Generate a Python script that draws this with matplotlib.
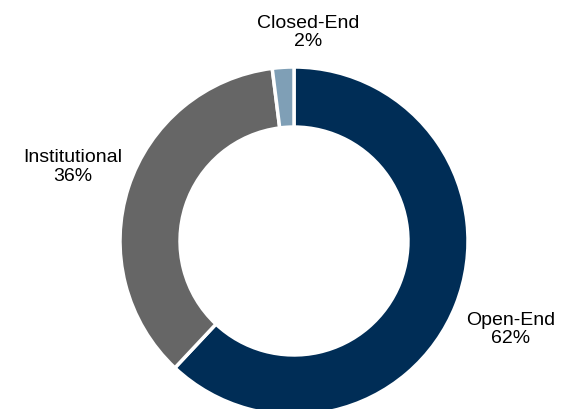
import matplotlib.pyplot as plt

categories = ["Open-End", "Institutional", "Closed-End"]
shares = [62, 36, 2]
colors = ["#002D56", "#666666", "#7F9FB6"]

plt.rcParams['font.family'] = ['Liberation Sans', 'DejaVu Sans']

fig = plt.figure(figsize=(5.67, 4.09), dpi=100)
# square axes, donut of radius 1 centred on it
ax = fig.add_axes([120 / 567, -6 / 409, 348 / 567, 348 / 409])

ax.pie(shares, colors=colors, startangle=90, counterclock=False, radius=1.0,
       wedgeprops=dict(width=0.345, edgecolor='white', linewidth=2.5))
ax.set_xlim(-1, 1)
ax.set_ylim(-1, 1)
ax.set_aspect('equal')
ax.axis('off')

label_pos = {"Open-End": (1.247, -0.51),
             "Institutional": (-1.27, 0.425),
             "Closed-End": (0.08, 1.20)}
for name, val in zip(categories, shares):
    x, y = label_pos[name]
    ax.text(x, y, f"{name}\n{val}%", ha='center', va='center', fontsize=14,
            linespacing=1.1, clip_on=False)

fig.savefig("out.png", dpi=100)
